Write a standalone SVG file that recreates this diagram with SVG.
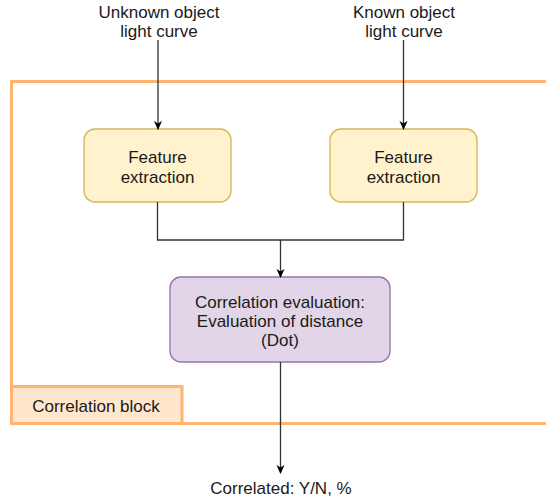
<svg xmlns="http://www.w3.org/2000/svg" width="546" height="501" viewBox="0 0 546 501">
  <defs>
    <style>
      .txt { font-family: "Liberation Sans", Arial, sans-serif; font-size: 17px; fill: #1a1a1a; text-anchor: middle; }
      .edge { fill: none; stroke: #333333; stroke-width: 1.3; }
      .feat { fill: #fff2cc; stroke: #d6b656; stroke-width: 1.3; }
      .corr { fill: #e1d5e7; stroke: #9673a6; stroke-width: 1.3; }
    </style>
    <marker id="arrow" viewBox="0 0 10 10" refX="9" refY="5" markerWidth="9" markerHeight="9" markerUnits="userSpaceOnUse" orient="auto">
      <path d="M0,0.5 L10,5 L0,9.5 L3,5 Z" fill="#000000"/>
    </marker>
  </defs>

  <!-- container: correlation block -->
  <g id="correlation-block">
    <rect x="11.5" y="81.5" width="545" height="342" fill="none" stroke="#ffb570" stroke-width="3"/>
    <rect x="11.5" y="386.5" width="170.5" height="37" fill="#ffe6cc" stroke="#ffb570" stroke-width="3"/>
    <text class="txt" x="96" y="412">Correlation block</text>
  </g>

  <!-- input labels -->
  <g id="input-unknown">
    <text class="txt" x="159" y="18">Unknown object</text>
    <text class="txt" x="159" y="37">light curve</text>
  </g>
  <g id="input-known">
    <text class="txt" x="404" y="18">Known object</text>
    <text class="txt" x="404" y="37">light curve</text>
  </g>

  <!-- feature extraction nodes -->
  <g id="feature-left">
    <rect class="feat" x="84" y="129" width="147" height="73" rx="11"/>
    <text class="txt" x="157.5" y="163">Feature</text>
    <text class="txt" x="157.5" y="183">extraction</text>
  </g>
  <g id="feature-right">
    <rect class="feat" x="330" y="129" width="147" height="73" rx="11"/>
    <text class="txt" x="403.5" y="163">Feature</text>
    <text class="txt" x="403.5" y="183">extraction</text>
  </g>

  <!-- correlation evaluation node -->
  <g id="correlation-eval">
    <rect class="corr" x="170" y="277" width="220" height="85" rx="11"/>
    <text class="txt" x="280" y="308">Correlation evaluation:</text>
    <text class="txt" x="280" y="327">Evaluation of distance</text>
    <text class="txt" x="280" y="346">(Dot)</text>
  </g>

  <!-- output label -->
  <g id="output">
    <text class="txt" x="281" y="494">Correlated: Y/N, %</text>
  </g>

  <!-- connectors -->
  <g id="connectors">
    <path class="edge" d="M158,40 L158,129" marker-end="url(#arrow)"/>
    <path class="edge" d="M403.5,40 L403.5,129" marker-end="url(#arrow)"/>
    <path class="edge" d="M157.5,202 L157.5,240 L403.5,240 L403.5,202"/>
    <path class="edge" d="M280.5,240 L280.5,277" marker-end="url(#arrow)"/>
    <path class="edge" d="M280.5,362 L280.5,473" marker-end="url(#arrow)"/>
  </g>
</svg>
